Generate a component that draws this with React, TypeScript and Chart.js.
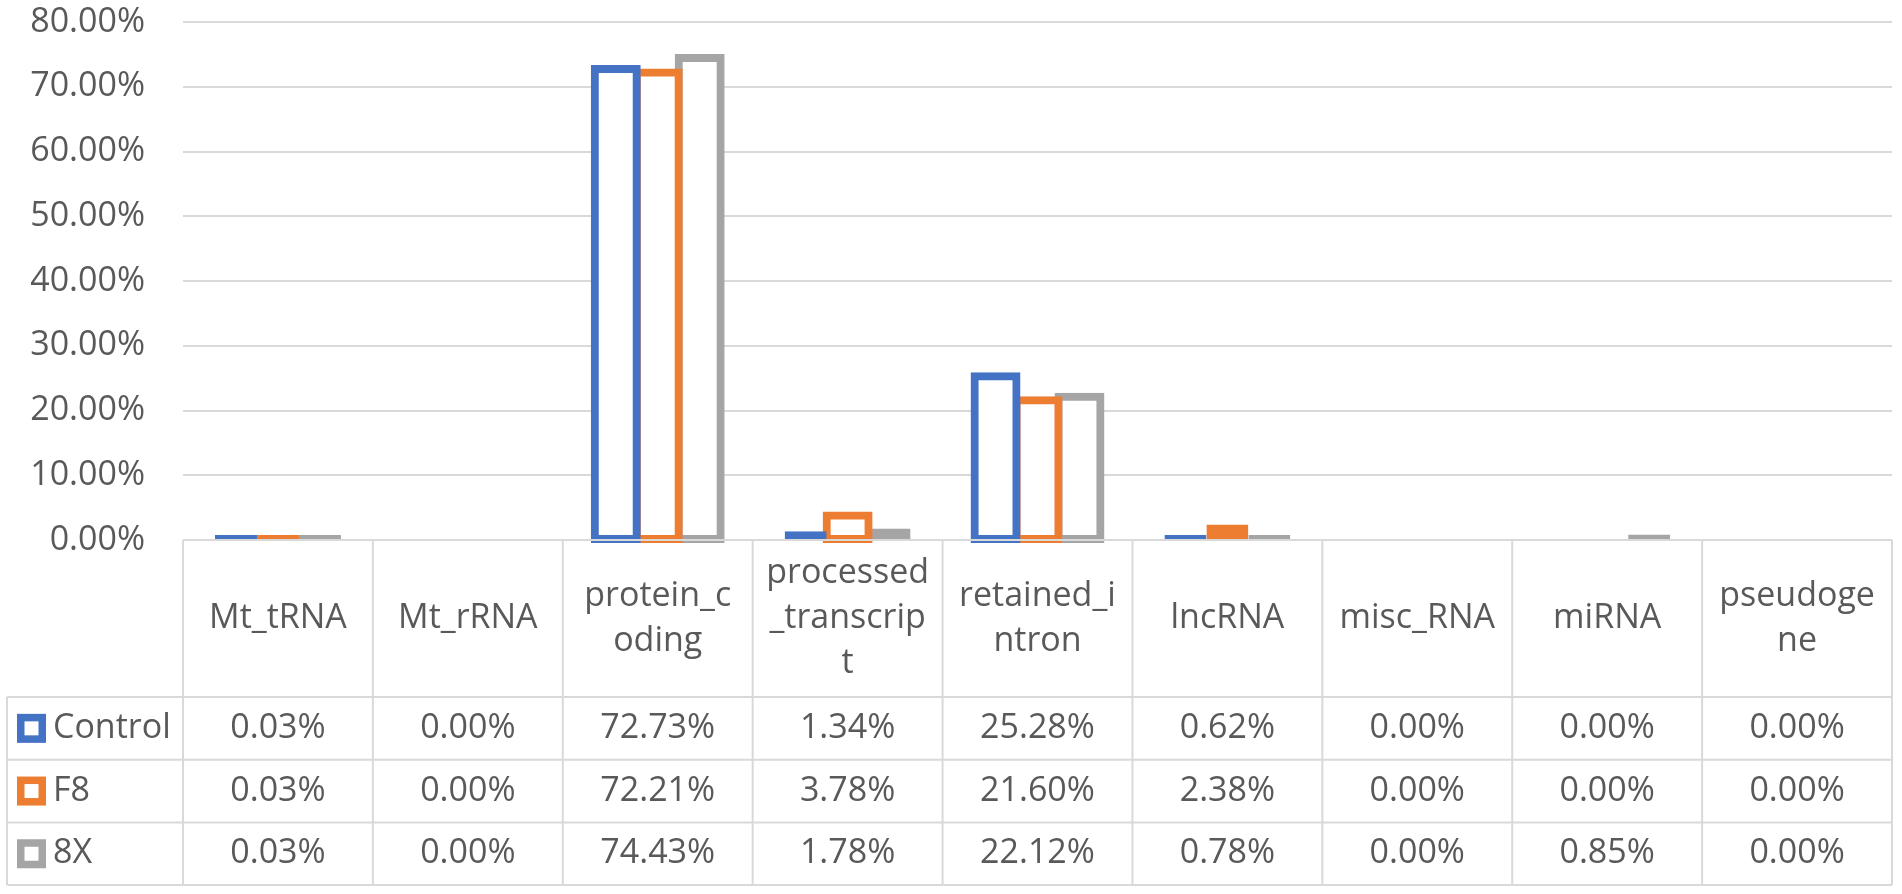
import React, { useEffect, useRef } from "react";
import { Chart, registerables } from "chart.js";

Chart.register(...registerables);

// categories and the way the table header wraps them
const categories = ["Mt_tRNA", "Mt_rRNA", "protein_coding", "processed_transcript", "retained_intron", "lncRNA", "misc_RNA", "miRNA", "pseudogene"];
const headerLines = [["Mt_tRNA"], ["Mt_rRNA"], ["protein_c", "oding"], ["processed", "_transcrip", "t"], ["retained_i", "ntron"], ["lncRNA"], ["misc_RNA"], ["miRNA"], ["pseudoge", "ne"]];

// percentages
const control = [0.03, 0.0, 72.73, 1.34, 25.28, 0.62, 0.0, 0.0, 0.0];
const f8 = [0.03, 0.0, 72.21, 3.78, 21.6, 2.38, 0.0, 0.0, 0.0];
const x8 = [0.03, 0.0, 74.43, 1.78, 22.12, 0.78, 0.0, 0.85, 0.0];

const seriesNames = ["Control", "F8", "8X"];
const seriesValues = [control, f8, x8];
const seriesColors = ["#4472C4", "#ED7D31", "#A5A5A5"];

const yMin = 0;
const yMax = 80;
const yStep = 10;

const FONT = "'Open Sans', 'Noto Sans', sans-serif";
const FONT_SIZE = 34;
const TEXT = "#595959";
const GRID = "#D9D9D9";
const HEADER_H = 157;
const ROW_H = 62.7;
const LEGEND_LEFT = 7;

const fmt = (v: number) => v.toFixed(2) + "%";

const tablePlugin = {
    id: "dataTable",
    afterDraw(chart: any) {
        const { ctx, chartArea } = chart;
        const xs = chart.scales.x;
        const ys = chart.scales.y;
        const y0 = ys.getPixelForValue(0);
        const catW = xs.width / categories.length;
        const headerBottom = y0 + HEADER_H;
        const tableBottom = headerBottom + ROW_H * seriesNames.length;

        ctx.save();
        ctx.strokeStyle = GRID;
        ctx.lineWidth = 2;
        ctx.beginPath();
        ctx.moveTo(chartArea.left, y0);
        ctx.lineTo(chartArea.right, y0);
        for (let r = 0; r <= seriesNames.length; r++) {
            const ry = headerBottom + r * ROW_H;
            ctx.moveTo(LEGEND_LEFT, ry);
            ctx.lineTo(chartArea.right, ry);
        }
        for (let i = 0; i <= categories.length; i++) {
            const bx = chartArea.left + i * catW;
            ctx.moveTo(bx, y0);
            ctx.lineTo(bx, tableBottom);
        }
        ctx.moveTo(LEGEND_LEFT, headerBottom);
        ctx.lineTo(LEGEND_LEFT, tableBottom);
        ctx.stroke();

        ctx.fillStyle = TEXT;
        ctx.font = FONT_SIZE + "px " + FONT;
        ctx.textAlign = "center";
        ctx.textBaseline = "middle";

        // header (category names)
        const lineH = 45;
        headerLines.forEach((lines, i) => {
            const cx = xs.getPixelForValue(i);
            const startY = y0 + HEADER_H / 2 - ((lines.length - 1) * lineH) / 2;
            lines.forEach((t, j) => ctx.fillText(t, cx, startY + j * lineH));
        });

        // rows
        seriesNames.forEach((name, r) => {
            const cy = headerBottom + r * ROW_H + ROW_H / 2;
            seriesValues[r].forEach((v, i) => {
                ctx.fillText(fmt(v), xs.getPixelForValue(i), cy);
            });
            // legend key
            ctx.fillStyle = seriesColors[r];
            ctx.fillRect(17, cy - 14.5, 29, 29);
            ctx.fillStyle = "#FFFFFF";
            ctx.fillRect(24.5, cy - 7, 14, 14);
            ctx.fillStyle = TEXT;
            ctx.textAlign = "left";
            ctx.fillText(name, 53, cy);
            ctx.textAlign = "center";
        });
        ctx.restore();
    },
};

const BarTable = () => {
    const canvasRef = useRef<HTMLCanvasElement>(null);

    useEffect(() => {
        if (!canvasRef.current) return;
        const ctx = canvasRef.current.getContext("2d");
        if (!ctx) return;

        Chart.defaults.font.family = FONT;
        Chart.defaults.color = TEXT;

        const chart = new Chart(ctx, {
            type: "bar",
            data: {
                labels: categories,
                datasets: seriesNames.map((name, r) => ({
                    label: name,
                    // zero values are not drawn as bars
                    data: seriesValues[r].map((v) => (v === 0 ? null : v)),
                    backgroundColor: "#FFFFFF",
                    borderColor: seriesColors[r],
                    borderWidth: 8,
                    borderSkipped: false,
                    inflateAmount: (c: any) => (c.raw >= 2.5 ? 4 : 0),
                    minBarLength: 5,
                    barPercentage: 1,
                    categoryPercentage: 0.663,
                    clip: false,
                })),
            },
            options: {
                animation: false,
                responsive: true,
                maintainAspectRatio: false,
                layout: {
                    padding: { left: 0, right: 10, top: 22, bottom: 354 },
                },
                plugins: {
                    legend: { display: false },
                    tooltip: { enabled: false },
                },
                scales: {
                    x: {
                        display: false,
                    },
                    y: {
                        min: yMin,
                        max: yMax,
                        border: { display: false },
                        grid: { color: GRID, lineWidth: 2, drawTicks: false },
                        ticks: {
                            stepSize: yStep,
                            padding: 38,
                            color: TEXT,
                            font: { size: FONT_SIZE, family: FONT },
                            callback: (v: any) => fmt(Number(v)),
                        },
                        afterFit: (scale: any) => {
                            scale.width = 183;
                            scale.paddingTop = 0;
                            scale.paddingBottom = 0;
                        },
                    },
                },
            },
            plugins: [tablePlugin],
        });

        return () => {
            chart.destroy();
        };
    }, []);

    return (
        <div style={{ position: "relative", width: 1902, height: 894 }}>
            <canvas ref={canvasRef}></canvas>
        </div>
    );
};

export default function App() {
    return (
        <>
            <style>{"body{margin:0;background:#fff;}"}</style>
            <BarTable />
        </>
    );
}
